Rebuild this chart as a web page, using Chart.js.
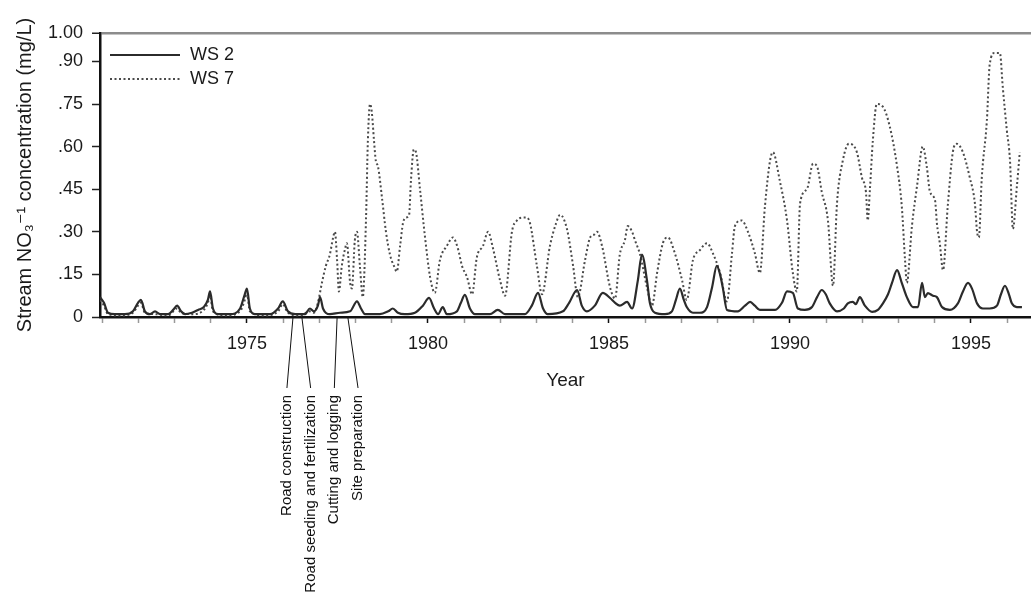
<!DOCTYPE html>
<html>
<head>
<meta charset="utf-8">
<title>Stream NO3 concentration, WS 2 and WS 7</title>
<script src="https://cdn.jsdelivr.net/npm/chart.js@4.4.1/dist/chart.umd.min.js"></script>
<style>
  html, body { margin: 0; padding: 0; background: #fff; }
  #chart { display: block; }
</style>
</head>
<body>
<canvas id="chart" width="1031" height="607"></canvas>
<script>
// values (year, mg/L)
const ws2Years = [1970.94, 1971.05, 1971.16, 1971.35, 1971.63, 1971.85, 1971.99, 1972.07, 1972.18, 1972.32,
  1972.46, 1972.60, 1972.82, 1972.96, 1973.07, 1973.18, 1973.29, 1973.48, 1973.65, 1973.81,
  1973.92, 1973.98, 1974.06, 1974.20, 1974.53, 1974.81, 1974.94, 1975.00, 1975.08, 1975.22,
  1975.64, 1975.86, 1975.99, 1976.13, 1976.33, 1976.60, 1976.74, 1976.85, 1976.96, 1977.02,
  1977.10, 1977.29, 1977.57, 1977.85, 1978.04, 1978.15, 1978.26, 1978.67, 1978.90, 1979.03,
  1979.17, 1979.36, 1979.64, 1979.86, 1980.03, 1980.17, 1980.28, 1980.41, 1980.52, 1980.80,
  1980.91, 1981.02, 1981.16, 1981.30, 1981.71, 1981.93, 1982.13, 1982.68, 1982.87, 1983.04,
  1983.18, 1983.31, 1983.73, 1983.90, 1984.12, 1984.25, 1984.39, 1984.61, 1984.83, 1985.03,
  1985.17, 1985.30, 1985.50, 1985.64, 1985.80, 1985.91, 1986.05, 1986.13, 1986.27, 1986.55,
  1986.74, 1986.85, 1986.96, 1987.07, 1987.15, 1987.32, 1987.51, 1987.71, 1987.85, 1987.98,
  1988.07, 1988.15, 1988.26, 1988.56, 1988.76, 1988.90, 1989.03, 1989.17, 1989.59, 1989.78,
  1989.92, 1990.08, 1990.22, 1990.41, 1990.61, 1990.75, 1990.88, 1990.99, 1991.10, 1991.30,
  1991.49, 1991.60, 1991.74, 1991.82, 1991.93, 1992.07, 1992.27, 1992.43, 1992.57, 1992.71,
  1992.82, 1992.96, 1993.09, 1993.23, 1993.40, 1993.54, 1993.65, 1993.73, 1993.81, 1993.95,
  1994.06, 1994.20, 1994.42, 1994.64, 1994.78, 1994.92, 1995.03, 1995.17, 1995.33, 1995.52,
  1995.72, 1995.83, 1995.94, 1996.05, 1996.13, 1996.27, 1996.41];

const ws2Values = [0.07, 0.05, 0.015, 0.01, 0.01, 0.02, 0.05, 0.06, 0.02, 0.01,
  0.02, 0.01, 0.01, 0.025, 0.04, 0.02, 0.01, 0.015, 0.025, 0.035,
  0.06, 0.09, 0.03, 0.01, 0.01, 0.03, 0.08, 0.10, 0.03, 0.01,
  0.01, 0.03, 0.055, 0.02, 0.01, 0.01, 0.03, 0.02, 0.04, 0.07,
  0.03, 0.01, 0.015, 0.02, 0.055, 0.03, 0.01, 0.01, 0.02, 0.03,
  0.015, 0.01, 0.015, 0.04, 0.067, 0.03, 0.01, 0.035, 0.01, 0.02,
  0.05, 0.078, 0.03, 0.01, 0.01, 0.025, 0.01, 0.01, 0.04, 0.085,
  0.03, 0.01, 0.02, 0.05, 0.095, 0.04, 0.02, 0.04, 0.085, 0.067,
  0.05, 0.04, 0.053, 0.03, 0.13, 0.22, 0.13, 0.05, 0.015, 0.01,
  0.02, 0.06, 0.10, 0.06, 0.035, 0.015, 0.015, 0.035, 0.105, 0.18,
  0.15, 0.10, 0.025, 0.02, 0.04, 0.053, 0.04, 0.025, 0.025, 0.05,
  0.09, 0.085, 0.03, 0.025, 0.035, 0.07, 0.095, 0.08, 0.048, 0.02,
  0.03, 0.048, 0.053, 0.045, 0.07, 0.04, 0.018, 0.025, 0.048, 0.08,
  0.12, 0.165, 0.12, 0.07, 0.035, 0.035, 0.12, 0.07, 0.084, 0.075,
  0.07, 0.035, 0.025, 0.048, 0.09, 0.12, 0.10, 0.048, 0.03, 0.03,
  0.04, 0.08, 0.11, 0.08, 0.048, 0.035, 0.035];

const ws7Years = [1970.94, 1971.05, 1971.16, 1971.49, 1971.85, 1971.99, 1972.07, 1972.18, 1972.46, 1972.82,
  1973.07, 1973.18, 1973.48, 1973.81, 1973.92, 1973.98, 1974.06, 1974.39, 1974.81, 1974.94,
  1975.00, 1975.08, 1975.50, 1975.86, 1975.99, 1976.13, 1976.46, 1976.74, 1976.85, 1976.96,
  1977.07, 1977.18, 1977.29, 1977.38, 1977.43, 1977.49, 1977.54, 1977.62, 1977.71, 1977.76,
  1977.85, 1977.90, 1977.98, 1978.04, 1978.12, 1978.20, 1978.29, 1978.34, 1978.40, 1978.45,
  1978.51, 1978.56, 1978.62, 1978.73, 1978.84, 1978.95, 1979.06, 1979.14, 1979.23, 1979.31,
  1979.39, 1979.48, 1979.53, 1979.61, 1979.67, 1979.78, 1979.92, 1980.06, 1980.19, 1980.33,
  1980.52, 1980.69, 1980.83, 1980.94, 1981.08, 1981.22, 1981.35, 1981.52, 1981.66, 1981.80,
  1981.99, 1982.13, 1982.32, 1982.46, 1982.62, 1982.73, 1982.82, 1983.01, 1983.15, 1983.37,
  1983.54, 1983.65, 1983.84, 1984.01, 1984.14, 1984.34, 1984.48, 1984.59, 1984.67, 1984.81,
  1985.03, 1985.17, 1985.30, 1985.44, 1985.52, 1985.64, 1985.72, 1985.86, 1986.05, 1986.19,
  1986.33, 1986.49, 1986.63, 1986.82, 1987.02, 1987.15, 1987.32, 1987.51, 1987.71, 1987.87,
  1988.07, 1988.26, 1988.40, 1988.48, 1988.67, 1988.84, 1989.03, 1989.17, 1989.31, 1989.45,
  1989.53, 1989.72, 1989.92, 1990.08, 1990.19, 1990.28, 1990.47, 1990.64, 1990.75, 1990.88,
  1991.05, 1991.19, 1991.30, 1991.46, 1991.63, 1991.85, 1991.99, 1992.10, 1992.15, 1992.21,
  1992.29, 1992.40, 1992.57, 1992.76, 1992.96, 1993.09, 1993.18, 1993.23, 1993.37, 1993.51,
  1993.67, 1993.78, 1993.87, 1994.01, 1994.06, 1994.14, 1994.23, 1994.36, 1994.50, 1994.61,
  1994.78, 1994.97, 1995.11, 1995.17, 1995.22, 1995.30, 1995.44, 1995.52, 1995.66, 1995.80,
  1995.88, 1995.99, 1996.08, 1996.16, 1996.27, 1996.35];

const ws7Values = [0.06, 0.04, 0.01, 0.005, 0.015, 0.04, 0.05, 0.015, 0.01, 0.005,
  0.03, 0.015, 0.01, 0.025, 0.05, 0.075, 0.02, 0.005, 0.02, 0.06,
  0.085, 0.02, 0.005, 0.02, 0.045, 0.015, 0.005, 0.02, 0.015, 0.05,
  0.12, 0.18, 0.22, 0.28, 0.30, 0.20, 0.09, 0.18, 0.24, 0.26,
  0.12, 0.10, 0.27, 0.30, 0.18, 0.07, 0.35, 0.62, 0.75, 0.72,
  0.62, 0.55, 0.53, 0.42, 0.30, 0.22, 0.18, 0.16, 0.25, 0.33,
  0.35, 0.36, 0.48, 0.59, 0.58, 0.45, 0.28, 0.14, 0.085, 0.20,
  0.25, 0.28, 0.24, 0.18, 0.14, 0.08, 0.21, 0.25, 0.30, 0.24,
  0.13, 0.075, 0.30, 0.34, 0.35, 0.35, 0.33, 0.18, 0.08, 0.25,
  0.33, 0.36, 0.31, 0.18, 0.07, 0.20, 0.28, 0.29, 0.30, 0.25,
  0.105, 0.065, 0.22, 0.27, 0.32, 0.30, 0.27, 0.22, 0.105, 0.04,
  0.155, 0.26, 0.28, 0.225, 0.13, 0.06, 0.20, 0.235, 0.26, 0.225,
  0.155, 0.055, 0.225, 0.32, 0.34, 0.30, 0.225, 0.155, 0.39, 0.55,
  0.58, 0.48, 0.34, 0.155, 0.09, 0.40, 0.45, 0.54, 0.53, 0.44,
  0.34, 0.11, 0.40, 0.55, 0.61, 0.58, 0.49, 0.44, 0.34, 0.45,
  0.62, 0.75, 0.74, 0.67, 0.53, 0.39, 0.20, 0.12, 0.32, 0.46,
  0.60, 0.53, 0.44, 0.41, 0.33, 0.26, 0.165, 0.39, 0.58, 0.61,
  0.58, 0.49, 0.40, 0.30, 0.28, 0.49, 0.69, 0.89, 0.93, 0.93,
  0.81, 0.66, 0.55, 0.31, 0.46, 0.58];

// axis ticks
const xLabelYears = [1975, 1980, 1985, 1990, 1995];
const yTickValues = [0, 0.15, 0.30, 0.45, 0.60, 0.75, 0.90, 1.00];
const yTickLabels = ["0", ".15", ".30", ".45", ".60", ".75", ".90", "1.00"];

// treatment events marked under the axis
const eventYears = [1976.27, 1976.52, 1977.49, 1977.79];
const eventLabels = ["Road construction", "Road seeding and fertilization", "Cutting and logging", "Site preparation"];

const FONT = '"Liberation Sans", Arial, "DejaVu Sans", sans-serif';

function toPoints(xs, ys) {
  let pts = [];
  for (let i = 0; i < xs.length; i++) pts.push({ x: xs[i], y: ys[i] });
  return pts;
}

let yearTicks = [];
for (let yr = 1971; yr <= 1996; yr++) yearTicks.push(yr);

// legend in the top-left corner of the plot
const legendPlugin = {
  id: "cornerLegend",
  afterDraw: function (chart) {
    let ctx = chart.ctx, area = chart.chartArea;
    chart.data.datasets.forEach(function (ds, i) {
      let y = area.top + 22 + i * 24;
      ctx.save();
      ctx.strokeStyle = ds.borderColor;
      ctx.lineWidth = ds.borderWidth;
      ctx.setLineDash(ds.borderDash || []);
      ctx.beginPath();
      ctx.moveTo(area.left + 10, y);
      ctx.lineTo(area.left + 80, y);
      ctx.stroke();
      ctx.setLineDash([]);
      ctx.fillStyle = "#1a1a1a";
      ctx.font = "18px " + FONT;
      ctx.textBaseline = "middle";
      ctx.fillText(ds.label, area.left + 90, y);
      ctx.restore();
    });
  }
};

// leader lines and rotated labels for the treatments
const eventPlugin = {
  id: "events",
  afterDraw: function (chart) {
    let ctx = chart.ctx, xs = chart.scales.x, base = chart.chartArea.bottom;
    let labelX0 = xs.getPixelForValue(eventYears[0]) - 6;
    ctx.save();
    ctx.strokeStyle = "#111";
    ctx.lineWidth = 1;
    ctx.fillStyle = "#111";
    ctx.font = "15px " + FONT;
    eventYears.forEach(function (yr, i) {
      let x0 = xs.getPixelForValue(yr);
      let x1 = labelX0 + i * 23.7;
      ctx.beginPath();
      ctx.moveTo(x0, base + 1);
      ctx.lineTo(x1, base + 71);
      ctx.stroke();
      ctx.save();
      ctx.translate(x1, base + 78);
      ctx.rotate(-Math.PI / 2);
      ctx.textAlign = "right";
      ctx.textBaseline = "middle";
      ctx.fillText(eventLabels[i], 0, 0);
      ctx.restore();
    });
    ctx.restore();
  }
};

Chart.defaults.font.family = FONT;
Chart.defaults.color = "#1a1a1a";

new Chart(document.getElementById("chart"), {
  type: "line",
  data: {
    datasets: [{
      label: "WS 2",
      data: toPoints(ws2Years, ws2Values),
      borderColor: "#2b2b2b",
      borderWidth: 2.2,
      pointRadius: 0,
      cubicInterpolationMode: "monotone"
    }, {
      label: "WS 7",
      data: toPoints(ws7Years, ws7Values),
      borderColor: "#4a4a4a",
      borderWidth: 2,
      borderDash: [2, 2.5],
      pointRadius: 0,
      cubicInterpolationMode: "monotone"
    }]
  },
  options: {
    responsive: false,
    animation: false,
    devicePixelRatio: 1,
    layout: { padding: { top: 33, right: 0, bottom: 0, left: 0 } },
    plugins: {
      legend: { display: false },
      tooltip: { enabled: false }
    },
    scales: {
      x: {
        type: "linear",
        min: 1970.94,
        max: 1996.66,
        afterBuildTicks: function (scale) {
          scale.ticks = yearTicks.map(function (v) { return { value: v }; });
        },
        afterFit: function (scale) { scale.height = 290; },
        border: { color: "#111", width: 2.5 },
        grid: {
          drawOnChartArea: false,
          tickLength: 6,
          tickWidth: 1.5,
          tickColor: function (c) {
            return c.tick && xLabelYears.indexOf(c.tick.value) >= 0 ? "#111" : "#999";
          }
        },
        ticks: {
          autoSkip: false,
          maxRotation: 0,
          padding: 10,
          color: "#1a1a1a",
          font: { size: 18 },
          callback: function (v) { return xLabelYears.indexOf(v) >= 0 ? String(v) : ""; }
        },
        title: {
          display: true,
          text: "Year",
          color: "#1a1a1a",
          font: { size: 19 },
          padding: { top: 0, bottom: 215 }
        }
      },
      y: {
        min: 0,
        max: 1,
        afterBuildTicks: function (scale) {
          scale.ticks = yTickValues.map(function (v) { return { value: v }; });
        },
        afterFit: function (scale) { scale.width = 100; },
        border: { color: "#111", width: 2.5 },
        grid: {
          color: function (c) { return c.tick && c.tick.value === 1 ? "#8c8c8c" : "rgba(0,0,0,0)"; },
          lineWidth: function (c) { return c.tick && c.tick.value === 1 ? 2.5 : 1; },
          tickLength: 8,
          tickWidth: 1.5,
          tickColor: "#222"
        },
        ticks: {
          padding: 9,
          color: "#1a1a1a",
          font: { size: 18 },
          callback: function (v) {
            let i = yTickValues.indexOf(v);
            return i >= 0 ? yTickLabels[i] : "";
          }
        },
        title: {
          display: true,
          text: "Stream NO\u2083\u207B\u00B9 concentration (mg/L)",
          color: "#1a1a1a",
          font: { size: 20 },
          padding: { top: 13, bottom: 0 }
        }
      }
    }
  },
  plugins: [legendPlugin, eventPlugin]
});
</script>
</body>
</html>
